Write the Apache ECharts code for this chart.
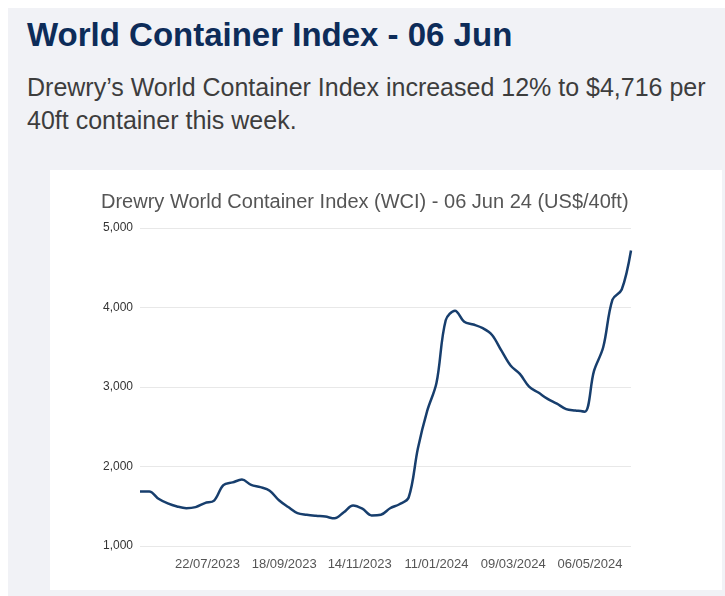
<!DOCTYPE html>
<html>
<head>
<meta charset="utf-8">
<script src="https://cdn.jsdelivr.net/npm/echarts@6/dist/echarts.min.js"></script>
<style>
  html, body { margin: 0; padding: 0; background: #ffffff; width: 725px; height: 596px; overflow: hidden; }
  #bg { position: absolute; left: 8px; top: 8px; width: 717px; height: 588px; background: #f1f2f6; }
  #h1 { position: absolute; left: 27px; top: 17px; font-family: 'Liberation Sans', Arial, sans-serif; font-weight: bold; font-size: 33px; line-height: 36px; color: #0d2c59; white-space: nowrap; }
  #sub { position: absolute; left: 27px; top: 71px; width: 700px; font-family: 'Liberation Sans', Arial, sans-serif; font-size: 25px; line-height: 33px; color: #3d3d3d; }
  #chart { position: absolute; left: 50px; top: 170px; width: 672px; height: 420px; background: #ffffff; }
</style>
</head>
<body>
<div id="bg"></div>
<div id="h1">World Container Index - 06 Jun</div>
<div id="sub">Drewry’s World Container Index increased 12% to $4,716 per 40ft container this week.</div>
<div id="chart"></div>
<script>
const chartTitle = 'Drewry World Container Index (WCI) - 06 Jun 24 (US$/40ft)';
const dates = [
  '2023-06-01','2023-06-08','2023-06-15','2023-06-22','2023-06-29',
  '2023-07-06','2023-07-13','2023-07-20','2023-07-27',
  '2023-08-03','2023-08-10','2023-08-17','2023-08-24','2023-08-31',
  '2023-09-07','2023-09-14','2023-09-21','2023-09-28',
  '2023-10-05','2023-10-12','2023-10-19','2023-10-26',
  '2023-11-02','2023-11-09','2023-11-16','2023-11-23','2023-11-30',
  '2023-12-07','2023-12-14','2023-12-21','2023-12-28',
  '2024-01-04','2024-01-11','2024-01-18','2024-01-25',
  '2024-02-01','2024-02-08','2024-02-15','2024-02-22','2024-02-29',
  '2024-03-07','2024-03-14','2024-03-21','2024-03-28',
  '2024-04-04','2024-04-11','2024-04-18','2024-04-25',
  '2024-05-02','2024-05-09','2024-05-16','2024-05-23','2024-05-30',
  '2024-06-06'
];
const wci = [
  1686, 1686, 1594, 1535, 1497,
  1476, 1489, 1540, 1572,
  1765, 1800, 1835, 1768, 1740,
  1695, 1575, 1490, 1413,
  1393, 1380, 1370, 1348,
  1425, 1510, 1469, 1385, 1393,
  1475, 1525, 1610, 2230,
  2700, 3050, 3840, 3960,
  3820, 3786, 3740, 3655, 3460,
  3270, 3165, 3005, 2930,
  2850, 2790, 2722, 2705,
  2690, 3200, 3500, 4100, 4226,
  4716
];
const xTickDates = ['2023-07-22','2023-09-18','2023-11-14','2024-01-11','2024-03-09','2024-05-06'];
const yTicks = [1000, 2000, 3000, 4000, 5000];

function ts(s) { const p = s.split('-').map(Number); return Date.UTC(p[0], p[1]-1, p[2]); }
function pad(n) { return (n < 10 ? '0' : '') + n; }
function fmtDate(v) { const d = new Date(v); return pad(d.getUTCDate()) + '/' + pad(d.getUTCMonth()+1) + '/' + d.getUTCFullYear(); }

const font = "'Liberation Sans', Arial, sans-serif";
const chart = echarts.init(document.getElementById('chart'));
chart.setOption({
  backgroundColor: '#ffffff',
  animation: false,
  title: {
    text: chartTitle, left: 46, top: 17,
    textStyle: { fontFamily: font, fontSize: 20, fontWeight: 'normal', color: '#555555' }
  },
  grid: { left: 90, right: 91, top: 58, bottom: 44, containLabel: false },
  xAxis: {
    type: 'value',
    min: ts(dates[0]), max: ts(dates[dates.length-1]),
    axisLine: { show: false }, axisTick: { show: false }, splitLine: { show: false },
    axisLabel: {
      customValues: xTickDates.map(ts),
      formatter: fmtDate,
      showMinLabel: true, showMaxLabel: true,
      fontFamily: font, fontSize: 13, color: '#555555', margin: 12
    }
  },
  yAxis: {
    type: 'value', min: yTicks[0], max: yTicks[yTicks.length-1], interval: 1000,
    axisLine: { show: false }, axisTick: { show: false },
    splitLine: { lineStyle: { color: '#e8e8e8', width: 1 } },
    axisLabel: {
      formatter: v => v.toLocaleString('en-US'),
      fontFamily: font, fontSize: 12, color: '#333333', margin: 7
    }
  },
  series: [{
    type: 'line',
    data: dates.map((d, i) => [ts(d), wci[i]]),
    smooth: 0.35,
    showSymbol: false,
    lineStyle: { color: '#173e6d', width: 2.5 }
  }]
});
</script>
</body>
</html>
